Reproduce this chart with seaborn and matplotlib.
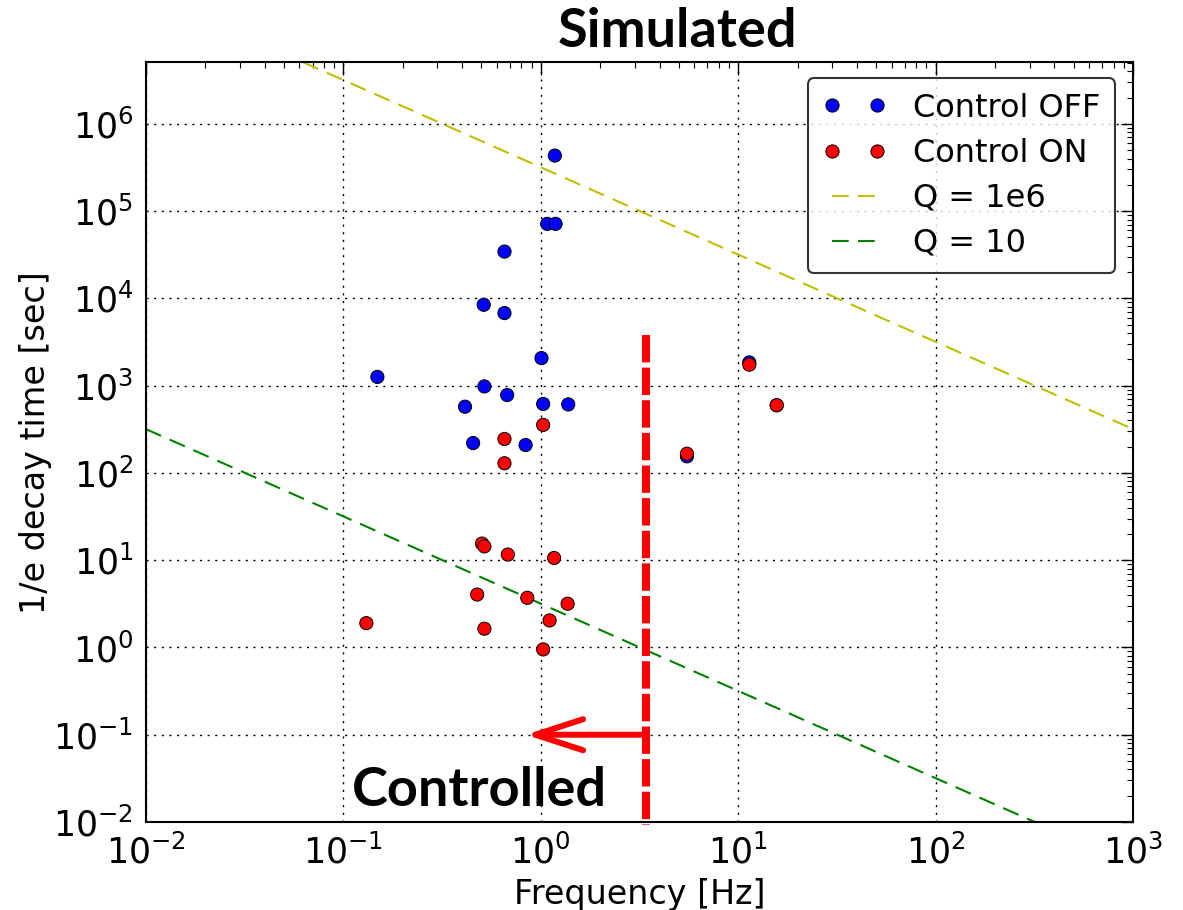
import numpy as np
import pandas as pd
import matplotlib
matplotlib.use("Agg")
import matplotlib.pyplot as plt
import seaborn as sns
from matplotlib.lines import Line2D

# ---- data ----
off_freq = [1.18, 1.08, 1.19, 0.656, 0.515, 0.656, 1.01, 0.149, 0.519, 0.677,
            0.414, 1.03, 1.38, 0.455, 0.839, 11.4, 15.7, 5.51]
off_tau = [4.33e5, 7.15e4, 7.15e4, 3.44e4, 8.45e3, 6.79e3, 2.07e3, 1.26e3, 980, 781,
           574, 617, 610, 220, 209, 1846, 597, 155]
on_freq = [1.03, 0.656, 0.656, 0.505, 0.519, 0.682, 1.17, 0.477, 0.856, 1.37,
           1.11, 0.131, 0.519, 1.03, 11.4, 15.7, 5.51]
on_tau = [355, 245, 129, 15.5, 14.4, 11.6, 10.6, 4.04, 3.71, 3.17,
          2.04, 1.90, 1.64, 0.95, 1738, 597, 166]
q_values = [1e6, 10]
q_labels = ["Q = 1e6", "Q = 10"]
q_colors = [(0.75, 0.75, 0.0), (0.0, 0.5, 0.0)]
line_freq = [1e-2, 1e3]
control_limit_freq = 3.42
control_line_tau = [3830, 0.0093]
arrow_tip_freq = 0.84
arrow_tau = 0.1

sns.set_style("white")
plt.rcParams['font.family'] = ['DejaVu Sans']
plt.rcParams['mathtext.fontset'] = 'dejavusans'
plt.rcParams['text.color'] = 'black'
plt.rcParams['axes.labelcolor'] = 'black'
plt.rcParams['xtick.color'] = 'black'
plt.rcParams['ytick.color'] = 'black'

fig = plt.figure(figsize=(11.83, 9.10), dpi=100)
ax = fig.add_axes([0.1232, 0.0967, 0.8345, 0.8348])

df = pd.DataFrame({
    "freq": off_freq + on_freq,
    "tau": off_tau + on_tau,
    "state": ["Control OFF"] * len(off_freq) + ["Control ON"] * len(on_freq),
})
sns.scatterplot(data=df, x="freq", y="tau", hue="state",
                palette={"Control OFF": "blue", "Control ON": "red"},
                s=90, edgecolor="black", linewidth=0.7, legend=False, ax=ax, zorder=3)

fl = np.array(line_freq)
for q, lab, col in zip(q_values, q_labels, q_colors):
    ax.plot(fl, q / (np.pi * fl), color=col, lw=1.5, linestyle=(0, (8, 4.5)), zorder=2)

ax.set_xscale("log")
ax.set_yscale("log")
ax.set_xlim(1e-2, 1e3)
ax.set_ylim(1e-2, 5.07e6)

ax.grid(True, which="major", color="black", linestyle=(0, (1.5, 4)), lw=1.0)
for sp in ax.spines.values():
    sp.set_linewidth(1.5)
    sp.set_color("black")
ax.tick_params(which="both", direction="in", top=True, right=True, colors="black",
               labelcolor="black")
ax.tick_params(which="major", length=9, width=1.0, labelsize=25, pad=9)
ax.tick_params(which="minor", length=4.5, width=0.8)
ax.set_xticks([10.0 ** k for k in range(-2, 4)])
ax.set_yticks([10.0 ** k for k in range(-2, 7)])

ax.set_xlabel("Frequency [Hz]", fontsize=24, labelpad=5, color="black")
ax.set_ylabel("1/e decay time [sec]", fontsize=24, labelpad=1, color="black")

# control limit
ax.plot([control_limit_freq, control_limit_freq], control_line_tau, color="red",
        lw=5.8, linestyle=(0, (3.4, 0.65)), clip_on=False, zorder=4)
ax.annotate("", xy=(arrow_tip_freq, arrow_tau), xytext=(control_limit_freq, arrow_tau),
            arrowprops=dict(arrowstyle="->,head_length=0.4,head_width=0.13",
                            mutation_scale=86, color="red", lw=4.3,
                            shrinkA=0, shrinkB=0, capstyle="round", joinstyle="round"),
            zorder=4)

handles = [
    Line2D([], [], marker="o", linestyle="none", markerfacecolor="blue",
           markeredgecolor="black", markeredgewidth=0.7, markersize=9.5),
    Line2D([], [], marker="o", linestyle="none", markerfacecolor="red",
           markeredgecolor="black", markeredgewidth=0.7, markersize=9.5),
    Line2D([], [], color=q_colors[0], lw=1.5, linestyle=(0, (8, 4.5))),
    Line2D([], [], color=q_colors[1], lw=1.5, linestyle=(0, (8, 4.5))),
]
leg = ax.legend(handles, ["Control OFF", "Control ON"] + q_labels,
                loc="upper right", bbox_to_anchor=(0.982, 0.979), fontsize=23,
                numpoints=2, frameon=True, fancybox=True, handlelength=2.0,
                handletextpad=0.85, labelspacing=0.44, borderpad=0.45,
                borderaxespad=0.0)
leg.get_frame().set_edgecolor("black")
leg.get_frame().set_linewidth(1.5)
leg.set_zorder(5)
for t in leg.get_texts():
    t.set_color("black")

fig.text(0.4717, 0.9484, "Simulated", fontsize=39, fontweight="bold",
         family=["Lato", "DejaVu Sans"], va="baseline", ha="left", color="black")
fig.text(0.2975, 0.1143, "Controlled", fontsize=39, fontweight="bold",
         family=["Lato", "DejaVu Sans"], va="baseline", ha="left", color="black")

fig.savefig("out.png", dpi=100)
